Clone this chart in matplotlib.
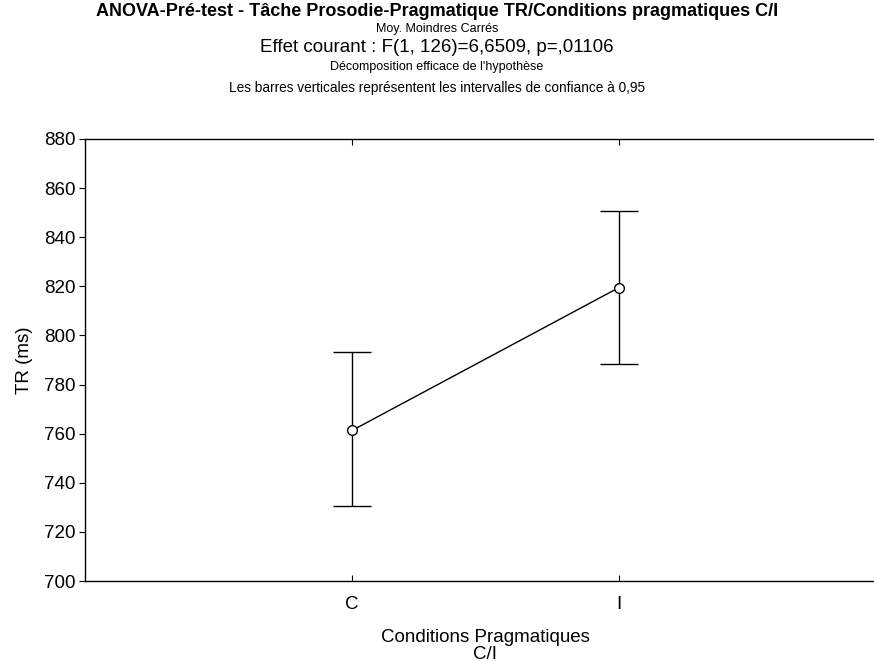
import numpy as np
import matplotlib
matplotlib.use('Agg')
import matplotlib.pyplot as plt

# data
conditions = ['C', 'I']
means = [761.3, 819.5]
ci_low = [730.5, 788.3]
ci_high = [793.2, 850.6]

plt.rcParams['font.family'] = ['Liberation Sans', 'DejaVu Sans']

fig = plt.figure(figsize=(8.74, 6.62), dpi=100)
ax = fig.add_axes([85/874, 81/662, 801/874, 442/662])

x = np.arange(1, len(conditions) + 1)
m = np.array(means)
yerr = [m - np.array(ci_low), np.array(ci_high) - m]
ax.errorbar(x, m, yerr=yerr, color='black', lw=1.0, capsize=14, capthick=1.0,
            marker='o', markersize=7, markerfacecolor='white', markeredgecolor='black',
            markeredgewidth=1.0)

ax.set_xlim(0, 3)
ax.set_ylim(700, 880)
ax.set_yticks(np.arange(700, 881, 20))
ax.set_xticks(x)
ax.set_xticklabels(conditions)
ax.tick_params(axis='x', direction='in', length=4, top=True, labelsize=13.5, pad=11)
ax.tick_params(axis='y', direction='out', length=4, labelsize=13.5, pad=3)
ax.spines['right'].set_visible(False)
for s in ax.spines.values():
    s.set_linewidth(1.0)

ax.set_xlabel('Conditions Pragmatiques\nC/I', fontsize=13.5, labelpad=11, linespacing=1.05)
ax.set_ylabel('TR (ms)', fontsize=13.5, labelpad=8)

fig.text(0.5, 1 - 12/662, "ANOVA-Pré-test - Tâche Prosodie-Pragmatique TR/Conditions pragmatiques C/I",
         ha='center', va='center', fontsize=13, fontweight='bold')
fig.text(0.5, 1 - 29/662, "Moy. Moindres Carrés", ha='center', va='center', fontsize=9)
fig.text(0.5, 1 - 48/662, "Effet courant : F(1, 126)=6,6509, p=,01106", ha='center', va='center', fontsize=13.5)
fig.text(0.5, 1 - 67/662, "Décomposition efficace de l'hypothèse", ha='center', va='center', fontsize=9)
fig.text(0.5, 1 - 88/662, "Les barres verticales représentent les intervalles de confiance à 0,95",
         ha='center', va='center', fontsize=9.8)

fig.savefig('out.png', dpi=100)
